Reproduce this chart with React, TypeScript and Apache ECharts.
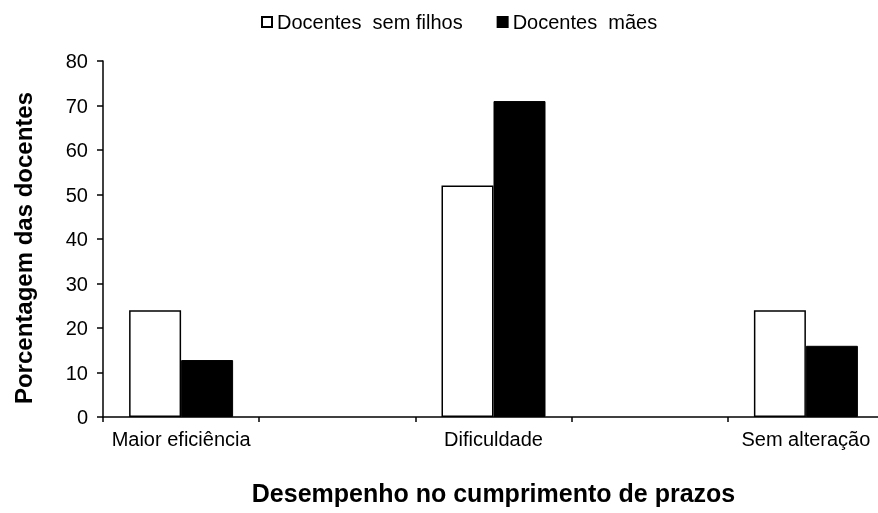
import React, { useEffect, useRef } from "react";
import * as echarts from "echarts";

const categories = ["Maior eficiência", "Dificuldade", "Sem alteração"];
const semFilhos = [24, 52, 24];
const maes = [12.8, 71, 16];
const seriesNames = ["Docentes  sem filhos", "Docentes  mães"];
const yTicks = { min: 0, max: 80, interval: 10 };

export default function App() {
  const ref = useRef<HTMLDivElement>(null);
  useEffect(() => {
    if (!ref.current) return;
    const chart = echarts.init(ref.current, null, { renderer: "svg" });
    // spread categories across 5 bands (empty bands between groups)
    const padCats: string[] = [];
    const padA: (number | null)[] = [];
    const padB: (number | null)[] = [];
    categories.forEach((c, i) => {
      if (i > 0) {
        padCats.push("");
        padA.push(null);
        padB.push(null);
      }
      padCats.push(c);
      padA.push(semFilhos[i]);
      padB.push(maes[i]);
    });
    const font = "Liberation Sans, Arial, sans-serif";
    chart.setOption({
      animation: false,
      textStyle: { fontFamily: font },
      legend: {
        top: 7,
        left: 256,
        itemWidth: 10,
        itemHeight: 10,
        itemGap: 34,
        icon: "rect",
        textStyle: { fontSize: 20, color: "#000", fontFamily: font, padding: [0, 0, 0, 0] },
        data: seriesNames,
      },
      grid: {
        left: 103,
        right: -6,
        top: 61,
        bottom: 96,
        containLabel: false,
        outerBoundsMode: "none",
      },
      xAxis: {
        type: "category",
        data: padCats,
        boundaryGap: true,
        name: "Desempenho no cumprimento de prazos",
        nameLocation: "middle",
        nameGap: 63,
        nameTextStyle: { fontSize: 25, fontWeight: "bold", color: "#000", fontFamily: font },
        axisLine: { lineStyle: { color: "#000", width: 1.5 } },
        axisTick: { show: true, interval: 0, length: 5, lineStyle: { color: "#000", width: 1.5 } },
        axisLabel: { interval: 0, fontSize: 20, color: "#000", margin: 12, fontFamily: font },
        splitLine: { show: false },
      },
      yAxis: {
        type: "value",
        min: yTicks.min,
        max: yTicks.max,
        interval: yTicks.interval,
        name: "Porcentagem das docentes",
        nameLocation: "middle",
        nameRotate: 90,
        nameGap: 68,
        nameTextStyle: {
          fontSize: 24,
          fontWeight: "bold",
          color: "#000",
          fontFamily: font,
          padding: [0, 18, 0, 0],
        },
        axisLine: { show: true, lineStyle: { color: "#000", width: 1.5 } },
        axisTick: { show: true, length: 6, lineStyle: { color: "#000", width: 1.5 } },
        axisLabel: { fontSize: 20, color: "#000", margin: 15, fontFamily: font },
        splitLine: { show: false },
      },
      series: [
        {
          name: seriesNames[0],
          type: "bar",
          data: padA,
          barWidth: 52,
          barGap: "0%",
          itemStyle: { color: "#fff", borderColor: "#000", borderWidth: 1.5 },
        },
        {
          name: seriesNames[1],
          type: "bar",
          data: padB,
          barWidth: 52,
          barGap: "0%",
          itemStyle: { color: "#000", borderColor: "#000", borderWidth: 1 },
        },
      ],
    });
    return () => chart.dispose();
  }, []);
  return (
    <div
      ref={ref}
      style={{ position: "fixed", left: 0, top: 0, width: 878, height: 513 }}
    />
  );
}
